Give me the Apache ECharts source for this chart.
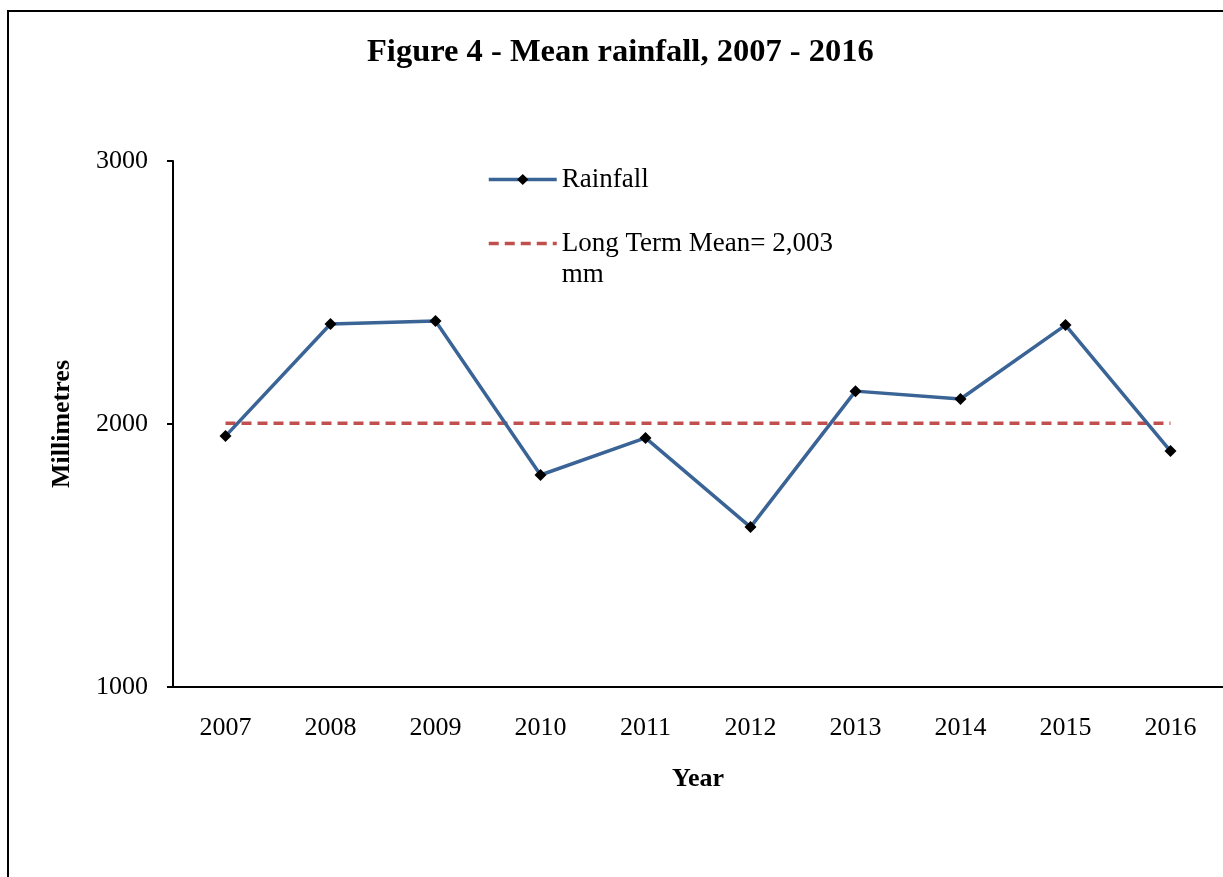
<!DOCTYPE html>
<html>
<head>
<meta charset="utf-8">
<script src="https://cdn.jsdelivr.net/npm/echarts@6/dist/echarts.min.js"></script>
<style>
  html, body { margin: 0; padding: 0; background: #fff; }
  #main { width: 1223px; height: 877px; }
</style>
</head>
<body>
<div id="main"></div>
<script>
const years = ['2007', '2008', '2009', '2010', '2011', '2012', '2013', '2014', '2015', '2016'];
const rainfall = [1954, 2380, 2392, 1806, 1947, 1608, 2125, 2095, 2376, 1897];
const longTermMean = [2003, 2003, 2003, 2003, 2003, 2003, 2003, 2003, 2003, 2003];
const yTicks = [1000, 2000, 3000];

const meanName = 'Long Term Mean= 2,003 mm';
const font = 'Liberation Serif';

const chart = echarts.init(document.getElementById('main'));

const option = {
  backgroundColor: '#fff',
  animation: false,
  textStyle: { fontFamily: font, color: '#000' },
  graphic: [{
    type: 'rect',
    shape: { x: 8, y: 11, width: 1300, height: 1000 },
    style: { fill: 'none', stroke: '#000', lineWidth: 2 },
    silent: true
  }],
  title: {
    text: 'Figure 4 - Mean rainfall, 2007 - 2016',
    left: 367,
    top: 36,
    padding: 0,
    textStyle: { fontFamily: font, fontSize: 32.5, fontWeight: 'bold', color: '#000' }
  },
  legend: {
    orient: 'vertical',
    left: 487,
    top: 164,
    padding: 0,
    itemGap: 2,
    itemWidth: 68,
    itemHeight: 14,
    selectedMode: false,
    data: ['Rainfall', meanName],
    lineStyle: { width: 3.5 },
    // the mean label wraps; a blank first line keeps its first line level with the icon
    formatter: function (name) {
      return name === meanName ? '\nLong Term Mean= 2,003\nmm' : name;
    },
    textStyle: { fontFamily: font, fontSize: 27, lineHeight: 31, color: '#000' }
  },
  grid: { left: 173, right: 0, top: 161, bottom: 190 },
  xAxis: {
    type: 'category',
    data: years,
    boundaryGap: true,
    name: 'Year',
    nameLocation: 'middle',
    nameGap: 79,
    nameTextStyle: { fontFamily: font, fontSize: 26, fontWeight: 'bold', color: '#000' },
    axisLine: { lineStyle: { color: '#000', width: 2 } },
    axisTick: { alignWithLabel: true, length: 6, lineStyle: { color: '#000', width: 2 } },
    axisLabel: { fontFamily: font, fontSize: 26, color: '#000', margin: 28 },
    splitLine: { show: false }
  },
  yAxis: {
    type: 'value',
    min: yTicks[0],
    max: yTicks[yTicks.length - 1],
    interval: 1000,
    name: 'Millimetres',
    nameLocation: 'middle',
    nameGap: 98,
    nameTextStyle: { fontFamily: font, fontSize: 26, fontWeight: 'bold', color: '#000' },
    axisLine: { show: true, lineStyle: { color: '#000', width: 2 } },
    axisTick: { show: true, length: 6, lineStyle: { color: '#000', width: 2 } },
    axisLabel: {
      fontFamily: font, fontSize: 26, color: '#000', margin: 25,
      formatter: function (v) { return String(v); }
    },
    splitLine: { show: false }
  },
  series: [
    {
      name: 'Rainfall',
      type: 'line',
      data: rainfall,
      symbol: 'diamond',
      symbolSize: 12,
      itemStyle: { color: '#000' },
      lineStyle: { color: '#3A6496', width: 3.5 },
      z: 3
    },
    {
      name: meanName,
      type: 'line',
      data: longTermMean,
      symbol: 'none',
      itemStyle: { color: 'rgba(0,0,0,0)' },
      lineStyle: { color: '#C0504D', width: 3.5, type: [10, 6] },
      z: 2
    }
  ]
};

chart.setOption(option);
</script>
</body>
</html>
